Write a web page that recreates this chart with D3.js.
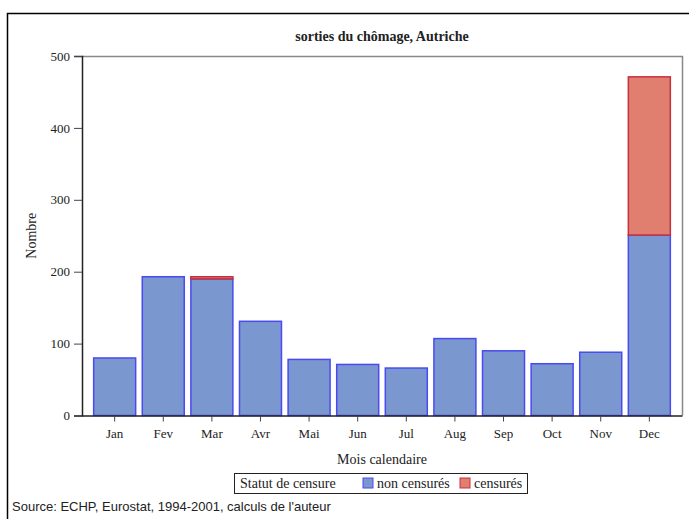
<!DOCTYPE html>
<meta charset="utf-8">
<style>
  body { margin: 0; background: #fff; }
  text { font-family: 'Liberation Serif', 'Times New Roman', serif; fill: #222; }
  .src { font-family: 'Liberation Sans', Arial, sans-serif; }
</style>
<body>
<script src="https://cdn.jsdelivr.net/npm/d3@7"></script>
<script>
  var width = 689, height = 519;

  // data
  var months = ["Jan", "Fev", "Mar", "Avr", "Mai", "Jun", "Jul", "Aug", "Sep", "Oct", "Nov", "Dec"];
  var nonCensures = [80, 193, 190, 131, 78, 71, 66, 107, 90, 72, 88, 251];
  var censures = [0, 0, 3, 0, 0, 0, 0, 0, 0, 0, 0, 220];
  var yTicks = [0, 100, 200, 300, 400, 500];

  var svg = d3.select("body").append("svg")
    .attr("width", width)
    .attr("height", height);

  // outer frame
  svg.append("rect")
    .attr("x", 7.5).attr("y", 13.5)
    .attr("width", 700).attr("height", 520)
    .attr("fill", "none").attr("stroke", "#000").attr("stroke-width", 1.5);

  var plotL = 82, plotR = 682, plotT = 56, plotB = 415.5;

  var x = d3.scaleBand()
    .domain(months)
    .range([plotL, plotR])
    .paddingInner(0.136)
    .paddingOuter(0.24);

  var y = d3.scaleLinear()
    .domain([0, 500])
    .range([plotB, plotT]);

  // plot border (top/right in gray)
  svg.append("path")
    .attr("d", "M" + plotL + "," + (plotT + 0.5) + "H" + (plotR + 0.5) + "V" + plotB)
    .attr("fill", "none").attr("stroke", "#888").attr("stroke-width", 1.5);

  var rows = months.map(function(m, i) {
    return { month: m, non: nonCensures[i], cens: censures[i] };
  });

  var stack = d3.stack().keys(["non", "cens"])(rows);
  var fills = { non: "#7b97cf", cens: "#e07e70" };
  var strokes = { non: "#4a4af0", cens: "#c8303e" };

  stack.forEach(function(layer) {
    svg.append("g").selectAll("rect")
      .data(layer.filter(function(d) { return d[1] > d[0]; }))
      .enter().append("rect")
      .attr("x", function(d) { return x(d.data.month); })
      .attr("y", function(d) { return y(d[1]); })
      .attr("width", x.bandwidth())
      .attr("height", function(d) { return y(d[0]) - y(d[1]); })
      .attr("fill", fills[layer.key])
      .attr("stroke", strokes[layer.key])
      .attr("stroke-width", 1.5);
  });

  // axes
  var yAxis = svg.append("g")
    .attr("transform", "translate(" + plotL + ",0)")
    .call(d3.axisLeft(y).tickValues(yTicks).tickSize(8).tickPadding(4));
  var xAxis = svg.append("g")
    .attr("transform", "translate(0," + plotB + ")")
    .call(d3.axisBottom(x).tickSize(6).tickPadding(7).tickSizeOuter(0));

  [yAxis, xAxis].forEach(function(a) {
    a.select(".domain").attr("stroke", "#222").attr("stroke-width", 1.5);
    a.selectAll(".tick line").attr("stroke", "#444");
    a.selectAll("text")
      .style("font-family", "'Liberation Serif', serif")
      .style("font-size", "13px")
      .attr("fill", "#222");
  });

  // title
  svg.append("text")
    .attr("x", (plotL + plotR) / 2).attr("y", 41)
    .attr("text-anchor", "middle")
    .style("font-size", "14px").style("font-weight", "bold")
    .text("sorties du chômage, Autriche");

  svg.append("text")
    .attr("transform", "translate(36," + ((plotT + plotB) / 2) + ") rotate(-90)")
    .attr("text-anchor", "middle")
    .style("font-size", "14px")
    .text("Nombre");

  svg.append("text")
    .attr("x", (plotL + plotR) / 2).attr("y", 464)
    .attr("text-anchor", "middle")
    .style("font-size", "14px")
    .text("Mois calendaire");

  // legend
  var lg = svg.append("g").attr("transform", "translate(234,473)");
  lg.append("rect")
    .attr("x", 0.5).attr("y", 0.5).attr("width", 293).attr("height", 20)
    .attr("fill", "#fff").attr("stroke", "#222");
  lg.append("text").attr("x", 6).attr("y", 15).style("font-size", "14px").text("Statut de censure");
  var items = [
    { key: "non", label: "non censurés", x: 129 },
    { key: "cens", label: "censurés", x: 226 }
  ];
  items.forEach(function(it) {
    lg.append("rect")
      .attr("x", it.x).attr("y", 5).attr("width", 10).attr("height", 10)
      .attr("fill", fills[it.key]).attr("stroke", strokes[it.key]);
    lg.append("text").attr("x", it.x + 14).attr("y", 15)
      .style("font-size", "14px").text(it.label);
  });

  svg.append("text")
    .attr("class", "src")
    .attr("x", 12).attr("y", 511)
    .style("font-size", "13px")
    .text("Source: ECHP, Eurostat, 1994-2001, calculs de l'auteur");
</script>
</body>
